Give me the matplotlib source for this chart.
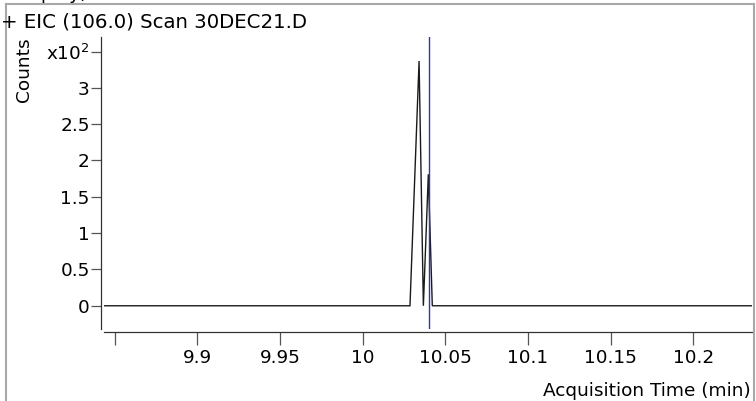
#%%
import numpy as np
import matplotlib
matplotlib.use('Agg')
import matplotlib.pyplot as plt
from matplotlib.lines import Line2D

plt.rcParams['font.family'] = ['DejaVu Sans']
plt.rcParams['mathtext.fontset'] = 'dejavusans'

# EIC 데이터 (scan time, counts)
scan_time = [9.8435, 10.0286, 10.0341, 10.0367, 10.0397, 10.0421, 10.2355]
counts = [0, 0, 337, 0, 181, 0, 0]
marker_time = 10.0404  # 파란 세로선

x_ticks = [9.85, 9.9, 9.95, 10.0, 10.05, 10.1, 10.15, 10.2]
x_ticklabels = ['', '9.9', '9.95', '10', '10.05', '10.1', '10.15', '10.2']
y_ticks = [0, 0.5, 1, 1.5, 2, 2.5, 3, 3.5]
y_ticklabels = ['0', '0.5', '1', '1.5', '2', '2.5', '3', r'x10$^{2}$']

title = '+ EIC (106.0) Scan 30DEC21.D'
xlabel = 'Acquisition Time (min)'
ylabel = 'Counts'

FS = 13.3

# %%
W, H = 756, 401
fig = plt.figure(figsize=(W / 100, H / 100), dpi=100)
fig.set_facecolor('white')

# 픽셀 -> figure 좌표
def fx(px):
    return px / W

def fy(py):
    return 1 - py / H

ax = fig.add_axes([fx(104), fy(329), fx(752) - fx(104), fy(37) - fy(329)])

y = np.array(counts) / 100.0
ax.plot(scan_time, y, color='#1a1a1a', lw=1.0, solid_joinstyle='miter')
ax.axvline(marker_time, color='#3232b4', lw=1.0)

ax.set_xlim(9.8435, 10.2355)
ax.set_ylim(-0.32, 3.70)

for s in ['top', 'right']:
    ax.spines[s].set_visible(False)
ax.spines['left'].set_position(('outward', 2.2))
ax.spines['bottom'].set_position(('outward', 2.2))
for s in ['left', 'bottom']:
    ax.spines[s].set_color('#333333')
    ax.spines[s].set_linewidth(0.9)

ax.set_xticks(x_ticks)
ax.set_xticklabels(x_ticklabels, fontsize=FS)
ax.set_yticks(y_ticks)
ax.set_yticklabels(y_ticklabels, fontsize=FS)
ax.tick_params(axis='x', direction='out', length=9.4, width=0.9, color='#555555', pad=3)
ax.tick_params(axis='y', direction='out', length=7.2, width=0.9, color='#555555', pad=0.8)

# 라벨/제목
fig.text(fx(24), fy(70), ylabel, rotation=90, ha='center', va='center', fontsize=FS)
fig.text(fx(751), fy(391), xlabel, ha='right', va='center', fontsize=FS)
fig.text(fx(1), fy(28), title, ha='left', va='baseline', fontsize=14.2)
fig.text(fx(88), fy(-1), 'Display)', ha='right', va='baseline', fontsize=FS)

# 바깥 회색 테두리
frame_kw = dict(color='#a8a8a8', lw=1.5, transform=fig.transFigure)
fig.add_artist(Line2D([fx(6), fx(6)], [fy(4), fy(401)], **frame_kw))
fig.add_artist(Line2D([fx(6), fx(754)], [fy(4), fy(4)], **frame_kw))
fig.add_artist(Line2D([fx(754), fx(754)], [fy(4), fy(401)], **frame_kw))

fig.savefig('out.png', dpi=100, facecolor='white')
